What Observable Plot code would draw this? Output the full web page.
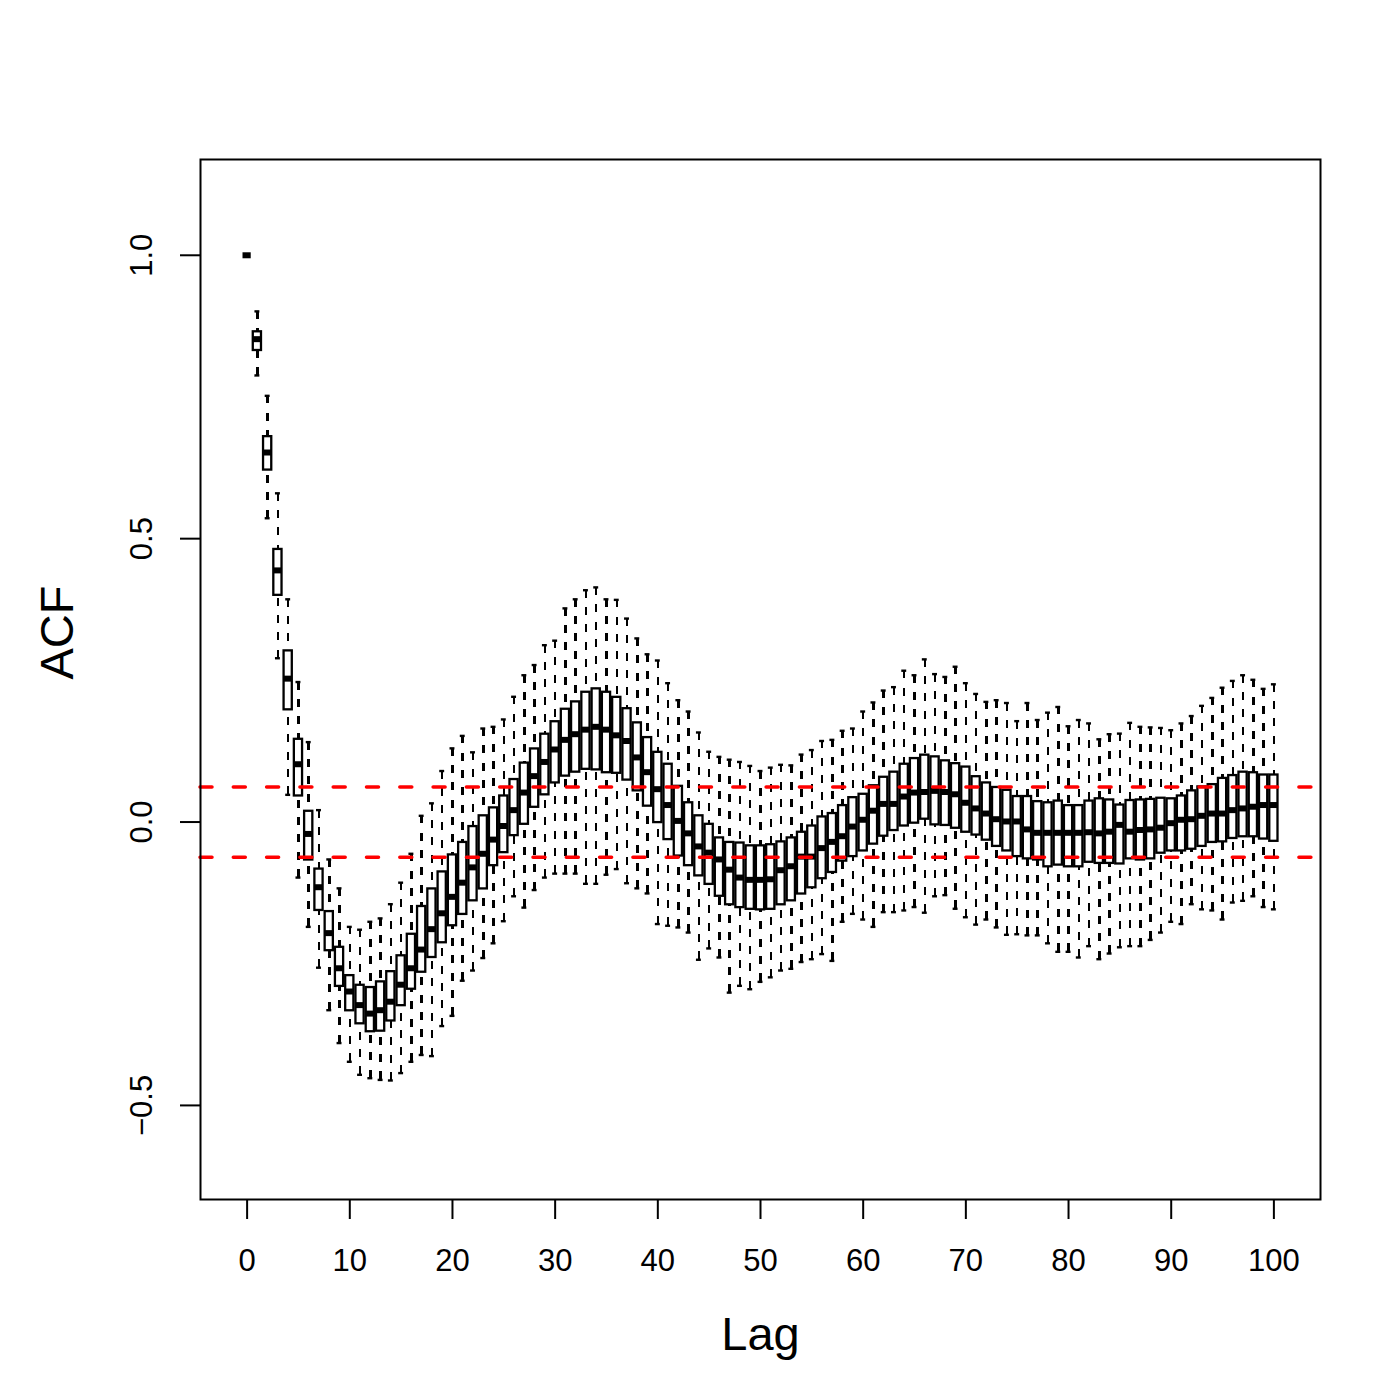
<!DOCTYPE html>
<html><head><meta charset="utf-8">
<script src="https://cdn.jsdelivr.net/npm/d3@7"></script>
<script src="https://cdn.jsdelivr.net/npm/@observablehq/plot@0.6"></script>
<style>body{margin:0;background:#fff;}</style>
</head><body><div id="chart"></div>
<script>
const lags = [0,1,2,3,4,5,6,7,8,9,10,11,12,13,14,15,16,17,18,19,20,21,22,23,24,25,26,27,28,29,30,31,32,33,34,35,36,37,38,39,40,41,42,43,44,45,46,47,48,49,50,51,52,53,54,55,56,57,58,59,60,61,62,63,64,65,66,67,68,69,70,71,72,73,74,75,76,77,78,79,80,81,82,83,84,85,86,87,88,89,90,91,92,93,94,95,96,97,98,99,100];
const whiskerHigh = [1,0.901,0.752,0.580,0.393,0.247,0.141,0.021,-0.066,-0.117,-0.185,-0.190,-0.176,-0.170,-0.145,-0.107,-0.056,0.011,0.033,0.090,0.130,0.152,0.123,0.165,0.168,0.181,0.221,0.259,0.277,0.312,0.320,0.377,0.393,0.409,0.414,0.393,0.392,0.359,0.324,0.296,0.285,0.245,0.215,0.195,0.158,0.124,0.115,0.110,0.106,0.099,0.090,0.096,0.101,0.100,0.119,0.127,0.143,0.145,0.161,0.165,0.195,0.211,0.232,0.238,0.267,0.259,0.287,0.261,0.256,0.274,0.245,0.226,0.212,0.215,0.210,0.178,0.210,0.180,0.193,0.203,0.169,0.180,0.174,0.146,0.155,0.156,0.175,0.168,0.167,0.166,0.162,0.174,0.187,0.205,0.219,0.237,0.249,0.259,0.251,0.235,0.243];
const upperHinge = [1,0.865,0.680,0.481,0.302,0.146,0.019,-0.083,-0.158,-0.221,-0.271,-0.288,-0.292,-0.282,-0.264,-0.236,-0.198,-0.149,-0.118,-0.088,-0.058,-0.036,-0.008,0.011,0.025,0.046,0.075,0.104,0.129,0.155,0.177,0.199,0.212,0.229,0.235,0.229,0.220,0.200,0.175,0.149,0.123,0.102,0.063,0.034,0.011,-0.004,-0.028,-0.036,-0.037,-0.042,-0.042,-0.040,-0.035,-0.028,-0.018,-0.007,0.009,0.015,0.029,0.043,0.049,0.064,0.079,0.088,0.102,0.112,0.118,0.115,0.108,0.103,0.097,0.080,0.069,0.061,0.056,0.045,0.045,0.036,0.034,0.037,0.029,0.029,0.037,0.041,0.039,0.030,0.038,0.039,0.040,0.042,0.041,0.046,0.055,0.062,0.066,0.077,0.082,0.088,0.087,0.083,0.083];
const medians = [1,0.852,0.652,0.444,0.253,0.102,-0.021,-0.115,-0.196,-0.258,-0.299,-0.323,-0.338,-0.332,-0.317,-0.287,-0.258,-0.225,-0.189,-0.161,-0.132,-0.107,-0.080,-0.056,-0.031,-0.007,0.021,0.052,0.081,0.106,0.128,0.145,0.155,0.163,0.168,0.163,0.153,0.143,0.114,0.088,0.058,0.030,0.002,-0.020,-0.043,-0.054,-0.066,-0.084,-0.098,-0.102,-0.102,-0.101,-0.085,-0.078,-0.061,-0.061,-0.046,-0.035,-0.025,-0.008,0.004,0.020,0.032,0.032,0.045,0.052,0.053,0.055,0.053,0.049,0.034,0.024,0.015,0.005,0.001,0.001,-0.013,-0.019,-0.019,-0.019,-0.019,-0.019,-0.018,-0.020,-0.017,-0.005,-0.017,-0.014,-0.013,-0.010,-0.002,0.004,0.005,0.011,0.015,0.015,0.021,0.024,0.027,0.030,0.030];
const lowerHinge = [1,0.832,0.621,0.400,0.198,0.046,-0.067,-0.156,-0.227,-0.290,-0.333,-0.356,-0.370,-0.369,-0.351,-0.324,-0.295,-0.265,-0.239,-0.213,-0.183,-0.163,-0.139,-0.118,-0.077,-0.054,-0.024,-0.004,0.026,0.048,0.069,0.081,0.088,0.093,0.092,0.087,0.086,0.074,0.055,0.028,-0.001,-0.031,-0.060,-0.077,-0.095,-0.110,-0.131,-0.146,-0.151,-0.154,-0.155,-0.154,-0.146,-0.139,-0.127,-0.116,-0.100,-0.089,-0.069,-0.061,-0.051,-0.039,-0.025,-0.015,-0.007,-0.002,0.005,-0.005,-0.006,-0.011,-0.018,-0.023,-0.032,-0.043,-0.051,-0.061,-0.065,-0.067,-0.079,-0.076,-0.079,-0.079,-0.071,-0.073,-0.073,-0.074,-0.065,-0.067,-0.065,-0.055,-0.051,-0.051,-0.048,-0.043,-0.036,-0.035,-0.029,-0.026,-0.026,-0.030,-0.034];
const whiskerLow = [1,0.788,0.536,0.289,0.048,-0.098,-0.185,-0.257,-0.332,-0.390,-0.423,-0.446,-0.452,-0.455,-0.456,-0.443,-0.423,-0.411,-0.413,-0.360,-0.342,-0.280,-0.262,-0.240,-0.214,-0.175,-0.131,-0.151,-0.120,-0.098,-0.091,-0.091,-0.091,-0.109,-0.109,-0.093,-0.083,-0.108,-0.117,-0.126,-0.180,-0.183,-0.186,-0.195,-0.243,-0.223,-0.239,-0.301,-0.289,-0.295,-0.282,-0.274,-0.262,-0.259,-0.247,-0.242,-0.233,-0.245,-0.176,-0.162,-0.172,-0.185,-0.159,-0.159,-0.156,-0.150,-0.160,-0.131,-0.129,-0.153,-0.168,-0.181,-0.172,-0.186,-0.199,-0.198,-0.200,-0.200,-0.214,-0.229,-0.229,-0.239,-0.219,-0.242,-0.232,-0.221,-0.219,-0.219,-0.208,-0.195,-0.176,-0.180,-0.145,-0.154,-0.156,-0.172,-0.142,-0.139,-0.131,-0.150,-0.154];
const confBounds = [0.062, -0.062];
const xTicks = [0,10,20,30,40,50,60,70,80,90,100];
const yTicks = [-0.5,0,0.5,1];
const xLabel = "Lag";
const yLabel = "ACF";

const rows = lags.map((lag, i) => ({lag, hi: whiskerHigh[i], q3: upperHinge[i], med: medians[i], q1: lowerHinge[i], lo: whiskerLow[i]}));
const half = 0.4, staple = 0.24;
const whiskerStyle = {stroke: "black", strokeWidth: 2.5, strokeDasharray: "8,9.3", shapeRendering: "crispEdges"};

const chart = Plot.plot({
  width: 1400, height: 1400,
  marginLeft: 200, marginRight: 80, marginTop: 159, marginBottom: 201,
  style: {fontFamily: "'Liberation Sans', Arial, Helvetica, sans-serif", background: "white", color: "black"},
  x: {domain: [-4.54, 104.54]},
  y: {domain: [-0.666, 1.169]},
  marks: [
    Plot.ruleX(rows, {x: "lag", y1: "hi", y2: "q3", ...whiskerStyle}),
    Plot.ruleX(rows, {x: "lag", y1: "lo", y2: "q1", ...whiskerStyle}),
    Plot.ruleY(rows, {y: "hi", x1: d => d.lag - staple, x2: d => d.lag + staple, stroke: "black", strokeWidth: 2.4}),
    Plot.ruleY(rows, {y: "lo", x1: d => d.lag - staple, x2: d => d.lag + staple, stroke: "black", strokeWidth: 2.4}),
    Plot.rect(rows, {x1: d => d.lag - half, x2: d => d.lag + half, y1: "q1", y2: "q3", fill: "white", stroke: "black", strokeWidth: 2.3}),
    Plot.ruleY(rows, {y: "med", x1: d => d.lag - half, x2: d => d.lag + half, stroke: "black", strokeWidth: 6}),
    Plot.ruleY(confBounds, {stroke: "#ff0000", strokeWidth: 3.5, strokeDasharray: "12,21.3", strokeLinecap: "round"}),
    Plot.frame({stroke: "black", strokeWidth: 2}),
    Plot.axisX({ticks: xTicks, tickSize: 20, tickPadding: 29, fontSize: 31, label: null, strokeWidth: 2}),
    Plot.axisY({ticks: yTicks, tickFormat: d3.format(".1f"), tickSize: 20, tickPadding: 29, tickRotate: -90, fontSize: 31, label: null, strokeWidth: 2}),
    Plot.text([xLabel], {text: d => d, frameAnchor: "bottom", dy: 150, fontSize: 47}),
    Plot.text([yLabel], {text: d => d, frameAnchor: "left", dx: -143, rotate: -90, fontSize: 47})
  ]
});
document.getElementById("chart").appendChild(chart);
</script>
</body></html>
